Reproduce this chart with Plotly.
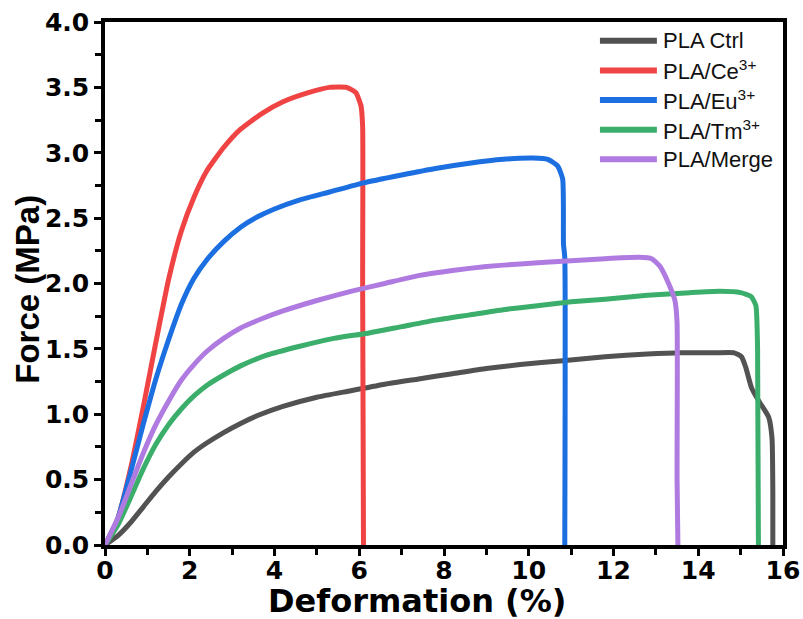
import plotly.graph_objects as go

# Force–deformation curves for PLA samples
series_names = ["PLA Ctrl", "PLA/Ce<sup>3+</sup>", "PLA/Eu<sup>3+</sup>",
                "PLA/Tm<sup>3+</sup>", "PLA/Merge"]
series_colors = ["#525252", "#F04444", "#1C6FE0", "#3AAE6A", "#B07BE0"]

ctrl_x = [0, 0.3, 0.6, 0.9, 1.2, 1.5, 1.8, 2.1, 2.4, 2.8, 3.2, 3.6, 4.2, 5.0, 5.8,
          6.6, 7.4, 8.2, 9.0, 9.8, 10.8, 11.8, 12.8, 13.6, 14.4, 14.85, 15.02, 15.12,
          15.26, 15.45, 15.66, 15.74, 15.76, 15.76]
ctrl_y = [0, 0.07, 0.17, 0.29, 0.41, 0.52, 0.62, 0.71, 0.78, 0.86, 0.93, 0.99, 1.06,
          1.13, 1.18, 1.23, 1.27, 1.31, 1.35, 1.38, 1.41, 1.44, 1.46, 1.47, 1.47, 1.47,
          1.44, 1.36, 1.2, 1.09, 0.98, 0.82, 0.4, 0]

ce_x = [0, 0.3, 0.6, 0.9, 1.2, 1.5, 1.8, 2.1, 2.4, 2.8, 3.2, 3.7, 4.2, 4.8, 5.3,
        5.7, 5.92, 6.04, 6.08, 6.08, 6.1]
ce_y = [0, 0.2, 0.58, 1.05, 1.55, 2.03, 2.4, 2.66, 2.86, 3.04, 3.18, 3.3, 3.39,
        3.46, 3.50, 3.50, 3.46, 3.36, 3.2, 2.0, 0]

eu_x = [0, 0.3, 0.6, 0.9, 1.2, 1.5, 1.8, 2.1, 2.4, 2.8, 3.2, 3.6, 4.0, 4.6, 5.3,
        6.1, 7.0, 7.8, 8.6, 9.4, 10.1, 10.45, 10.68, 10.8, 10.82, 10.85, 10.85]
eu_y = [0, 0.2, 0.55, 0.92, 1.27, 1.57, 1.84, 2.04, 2.18, 2.32, 2.43, 2.51, 2.57,
        2.64, 2.70, 2.77, 2.83, 2.88, 2.92, 2.95, 2.96, 2.95, 2.9, 2.8, 2.3, 2.2, 0]

tm_x = [0, 0.3, 0.6, 0.9, 1.2, 1.5, 1.8, 2.1, 2.4, 2.8, 3.2, 3.8, 4.6, 5.4, 6.2,
        7.0, 7.8, 8.6, 9.4, 10.2, 11.0, 11.8, 12.8, 13.8, 14.5, 15.0, 15.25, 15.36,
        15.4, 15.42]
tm_y = [0, 0.15, 0.36, 0.58, 0.77, 0.92, 1.04, 1.14, 1.22, 1.30, 1.37, 1.45, 1.52,
        1.58, 1.62, 1.67, 1.72, 1.76, 1.80, 1.83, 1.86, 1.88, 1.91, 1.93, 1.94, 1.93,
        1.9, 1.83, 1.5, 0]

merge_x = [0, 0.3, 0.6, 0.9, 1.2, 1.5, 1.8, 2.1, 2.4, 2.8, 3.2, 3.7, 4.2, 5.0, 5.8,
           6.6, 7.4, 8.2, 9.0, 9.8, 10.8, 11.8, 12.6, 12.9, 13.1, 13.3, 13.45, 13.5,
           13.5, 13.52]
merge_y = [0, 0.2, 0.45, 0.7, 0.92, 1.1, 1.26, 1.38, 1.48, 1.58, 1.66, 1.73, 1.79,
           1.87, 1.94, 2.0, 2.06, 2.10, 2.13, 2.15, 2.17, 2.19, 2.2, 2.19, 2.13, 2.0,
           1.87, 1.7, 0.5, 0]

x_ticks = [0, 2, 4, 6, 8, 10, 12, 14, 16]
y_ticks = [0.0, 0.5, 1.0, 1.5, 2.0, 2.5, 3.0, 3.5, 4.0]

curves = [(ctrl_x, ctrl_y), (ce_x, ce_y), (eu_x, eu_y), (tm_x, tm_y), (merge_x, merge_y)]

fig = go.Figure()
for (xs, ys), name, color in zip(curves, series_names, series_colors):
    fig.add_trace(go.Scatter(x=xs, y=ys, mode="lines", name=name,
                             line=dict(color=color, width=5, shape="spline", smoothing=0.5),
                             showlegend=False))

# Legend drawn as line samples with labels in the upper right
leg_x0, leg_x1, leg_text_x = 0.730, 0.814, 0.820
leg_y0, leg_dy = 0.964, 0.0566
shapes, annotations = [], []
for i, (name, color) in enumerate(zip(series_names, series_colors)):
    yy = leg_y0 - i * leg_dy
    shapes.append(dict(type="line", xref="paper", yref="paper",
                       x0=leg_x0, x1=leg_x1, y0=yy, y1=yy,
                       line=dict(color=color, width=6)))
    annotations.append(dict(xref="paper", yref="paper", x=leg_text_x, y=yy,
                            text=name, showarrow=False, xanchor="left", yanchor="middle",
                            font=dict(family="Arial", size=22, color="#111111")))

# Axis titles
annotations.append(dict(xref="paper", yref="paper", x=0.46, y=-0.108,
                        text="Deformation (%)", showarrow=False,
                        xanchor="center", yanchor="middle",
                        font=dict(family="DejaVu Sans", size=32, color="black", weight="bold")))
annotations.append(dict(xref="paper", yref="paper", x=-0.1136, y=0.49,
                        text="Force (MPa)", showarrow=False, textangle=-90,
                        xanchor="center", yanchor="middle",
                        font=dict(family="Arial", size=33, color="black", weight="bold")))

tick_font = dict(family="DejaVu Sans", size=25, color="black", weight="bold")

fig.update_layout(
    width=803, height=619,
    margin=dict(l=105, r=20, t=22, b=74),
    paper_bgcolor="white", plot_bgcolor="white",
    shapes=shapes, annotations=annotations,
    xaxis=dict(range=[0, 16], tickvals=x_ticks, ticktext=[str(v) for v in x_ticks],
               automargin=False, ticklabelstandoff=-7,
               showline=True, linewidth=3.5, linecolor="black", mirror=True,
               ticks="outside", ticklen=7, tickwidth=3, tickcolor="black",
               minor=dict(dtick=1, ticks="outside", ticklen=6, tickwidth=3, tickcolor="black"),
               showgrid=False, zeroline=False, tickfont=tick_font),
    yaxis=dict(range=[0, 4], tickvals=y_ticks, ticktext=[f"{v:.1f}" for v in y_ticks],
               automargin=False,
               showline=True, linewidth=3.5, linecolor="black", mirror=True,
               ticks="outside", ticklen=7, tickwidth=3, tickcolor="black",
               minor=dict(dtick=0.25, ticks="outside", ticklen=6, tickwidth=3, tickcolor="black"),
               showgrid=False, zeroline=False, tickfont=tick_font),
)

fig.write_html("out.html")
